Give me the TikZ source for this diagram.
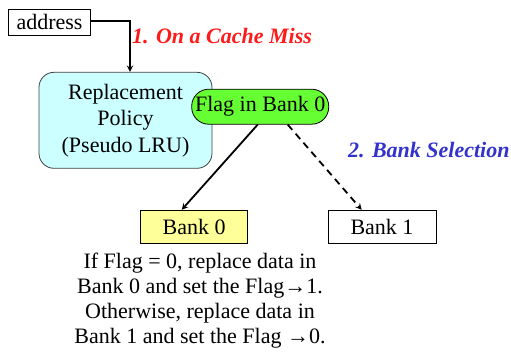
\documentclass[tikz,border=0pt]{standalone}
\usepackage{fontspec}
\setmainfont{Liberation Serif}
\usetikzlibrary{calc}
\begin{document}
\begin{tikzpicture}[x=1pt,y=-1pt,
  plainbox/.style={draw=black, line width=0.8pt, inner sep=0pt, minimum height=33pt},
  policybox/.style={draw=black!75, fill={rgb,255:red,204;green,255;blue,255}, line width=0.8pt,
    rounded corners=15pt, minimum width=173pt, minimum height=96pt, align=center},
  flagpill/.style={draw=black, fill={rgb,255:red,102;green,255;blue,51}, line width=0.8pt,
    rounded corners=17pt, minimum width=137pt, minimum height=35pt, inner sep=0pt},
  conn/.style={line width=1.8pt, ->, >=stealth}]
  \useasboundingbox (0,0) rectangle (511,356);

  % input and replacement logic
  \node[plainbox, minimum width=82pt, minimum height=26pt, font=\fontsize{22}{25}\selectfont] (addr) at (49.5,22) {address};
  \node[policybox, font=\fontsize{22}{26.5}\selectfont] (policy) at (125.5,120.3) {Replacement\\Policy\\(Pseudo LRU)};
  \node[flagpill, font=\fontsize{22}{25}\selectfont] (flag) at (260.2,106.7) {Flag in Bank 0};

  % the two banks
  \node[plainbox, fill={rgb,255:red,255;green,255;blue,153}, minimum width=107pt, font=\fontsize{22}{25}\selectfont] (bank0) at (194.2,226.7) {Bank 0};
  \node[plainbox, minimum width=108pt, font=\fontsize{22}{25}\selectfont] (bank1) at (382,226.7) {Bank 1};

  % step labels
  \node[font=\fontsize{22}{25}\selectfont\bfseries\itshape, text={rgb,255:red,255;green,26;blue,26}, anchor=west, inner sep=0pt] (miss) at (132,36) {1. On a Cache Miss};
  \node[font=\fontsize{22}{25}\selectfont\bfseries\itshape, text={rgb,255:red,51;green,51;blue,204}, anchor=west, inner sep=0pt] (sel) at (348,150) {2. Bank Selection};

  % explanation
  \node[font=\fontsize{22}{25}\selectfont, align=center, inner sep=0pt] (note) at (200,301)
    {If Flag = 0, replace data in\\Bank 0 and set the Flag{\bfseries →}1.\\Otherwise, replace data in\\Bank 1 and set the Flag {\bfseries →}0.};

  % connectors
  \coordinate (bend) at (130,21);
  \draw[conn] (addr.east |- bend) -- (bend) -- (bend |- policy.north);
  \draw[conn] ($(flag.south)+(-2.5,0)$) -- ($(bank0.north)+(-12.5,0)$);
  \draw[conn, dash pattern=on 7pt off 5pt] ($(flag.south)+(27.5,0)$) -- ($(bank1.north)+(-20.3,0)$);
\end{tikzpicture}
\end{document}
